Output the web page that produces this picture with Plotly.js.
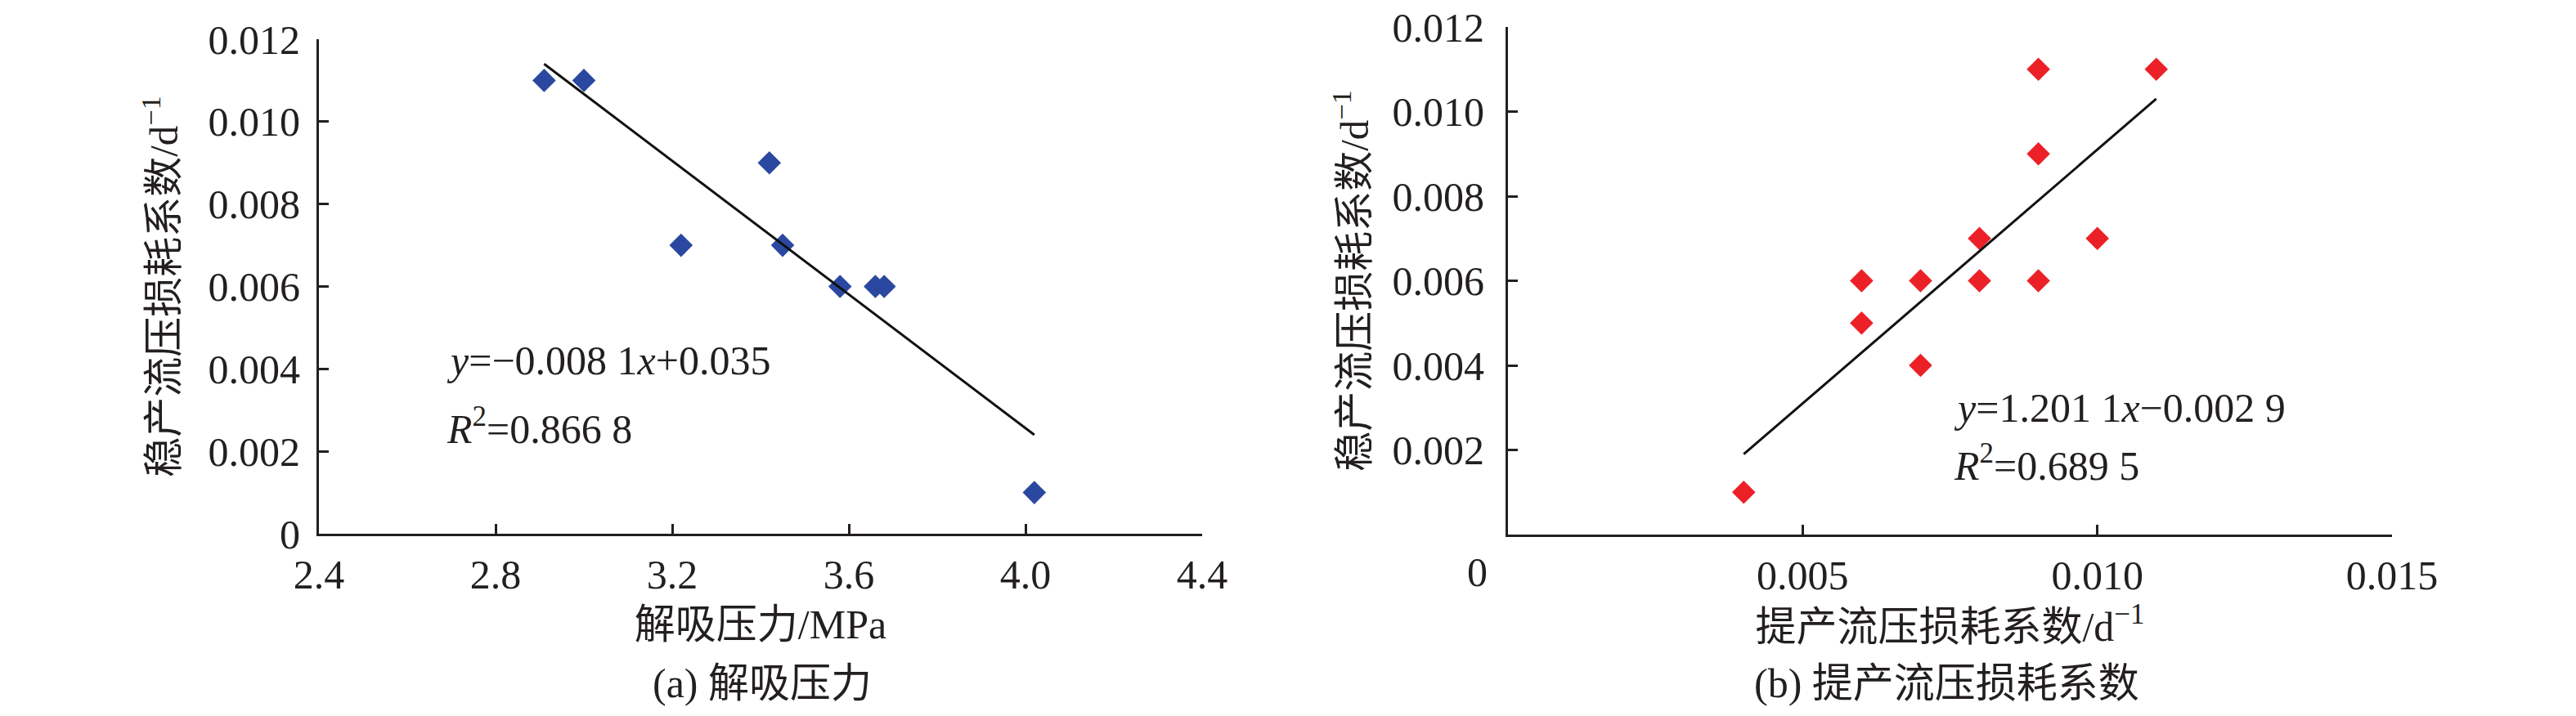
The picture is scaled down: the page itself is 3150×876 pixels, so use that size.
<!DOCTYPE html>
<html>
<head>
<meta charset="utf-8">
<script src="https://cdn.plot.ly/plotly-3.0.1.min.js"></script>
<style>html,body{margin:0;padding:0;background:#fff;}#chart{width:3150px;height:876px;}</style>
</head>
<body>
<div id="chart"></div>
<script>
// ---- Panel (a): desorption pressure vs stable-production loss coefficient ----
const desorbPressure = [2.91, 3.00, 3.22, 3.42, 3.45, 3.58, 3.66, 3.68, 4.02];
const stableLossA    = [0.011, 0.011, 0.007, 0.009, 0.007, 0.006, 0.006, 0.006, 0.001];
const trendAX = [2.91, 4.02];
const trendAY = [0.0114, 0.0024];
const eqA  = '<i>y</i>=−0.008 1<i>x</i>+0.035';
const r2A  = '<i>R</i><sup>2</sup>=0.866 8';

// ---- Panel (b): ramp-up loss coefficient vs stable-production loss coefficient ----
const rampLoss     = [0.004, 0.006, 0.006, 0.007, 0.007, 0.008, 0.008, 0.009, 0.009, 0.009, 0.010, 0.011];
const stableLossB  = [0.001, 0.005, 0.006, 0.006, 0.004, 0.007, 0.006, 0.011, 0.009, 0.006, 0.007, 0.011];
const trendBX = [0.004, 0.011];
const trendBY = [0.0019, 0.0103];
const eqB  = '<i>y</i>=1.201 1<i>x</i>−0.002 9';
const r2B  = '<i>R</i><sup>2</sup>=0.689 5';

// ---- Tick labels ----
const xTicksA = [2.4, 2.8, 3.2, 3.6, 4.0, 4.4];
const xTickTextA = ['2.4', '2.8', '3.2', '3.6', '4.0', '4.4'];
const yTicksA = [0, 0.002, 0.004, 0.006, 0.008, 0.010, 0.012];
const yTickTextA = ['0', '0.002', '0.004', '0.006', '0.008', '0.010', '0.012'];
const xTicksB = [0.005, 0.010, 0.015];
const xTickTextB = ['0.005', '0.010', '0.015'];
const yTicksB = [0.002, 0.004, 0.006, 0.008, 0.010, 0.012];
const yTickTextB = ['0.002', '0.004', '0.006', '0.008', '0.010', '0.012'];

// ---- Titles ----
const yTitle = '稳产流压损耗系数/d<sup>−1</sup>';
const xTitleA = '解吸压力/MPa';
const xTitleB = '提产流压损耗系数/d<sup>−1</sup>';
const subA = '(a) 解吸压力';
const subB = '(b) 提产流压损耗系数';

const FONT = "'Liberation Serif', 'Times New Roman', 'Noto Sans CJK SC', serif";
const INK = '#231f20';

const traces = [
  {x: desorbPressure, y: stableLossA, type: 'scatter', mode: 'markers', xaxis: 'x', yaxis: 'y',
   marker: {symbol: 'diamond', size: 22, color: '#2a48a0'}},
  {x: trendAX, y: trendAY, type: 'scatter', mode: 'lines', xaxis: 'x', yaxis: 'y',
   line: {color: '#111', width: 3}},
  {x: rampLoss, y: stableLossB, type: 'scatter', mode: 'markers', xaxis: 'x2', yaxis: 'y2',
   marker: {symbol: 'diamond', size: 22, color: '#ec2128'}},
  {x: trendBX, y: trendBY, type: 'scatter', mode: 'lines', xaxis: 'x2', yaxis: 'y2',
   line: {color: '#111', width: 3}}
];

function axisBase() {
  return {
    showline: true, linecolor: INK, linewidth: 3, mirror: false,
    showgrid: false, zeroline: false,
    ticks: 'inside', ticklen: 12, tickwidth: 3, tickcolor: INK,
    tickfont: {family: FONT, size: 50, color: INK},
    tickmode: 'array', fixedrange: true
  };
}

const layout = {
  width: 3150, height: 876,
  margin: {l: 0, r: 0, t: 0, b: 0},
  paper_bgcolor: '#fff', plot_bgcolor: '#fff',
  showlegend: false,
  font: {family: FONT, color: INK, size: 50},
  xaxis: Object.assign(axisBase(), {
    domain: [390/3150, 1470/3150], anchor: 'y', range: [2.4, 4.4],
    tickvals: xTicksA, ticktext: xTickTextA, ticklabelstandoff: 4,
    title: {text: xTitleA, font: {family: FONT, size: 50, color: INK}, standoff: 16}
  }),
  yaxis: Object.assign(axisBase(), {
    domain: [223/876, 828/876], anchor: 'x', range: [0, 0.012],
    tickvals: yTicksA, ticktext: yTickTextA, ticklabelstandoff: 10,
    title: {text: yTitle, font: {family: FONT, size: 49, color: INK}, standoff: 22}
  }),
  xaxis2: Object.assign(axisBase(), {
    domain: [1844/3150, 2925/3150], anchor: 'y2', range: [0, 0.015],
    tickvals: xTicksB, ticktext: xTickTextB, ticklabelstandoff: 4,
    title: {text: xTitleB, font: {family: FONT, size: 50, color: INK}, standoff: 16}
  }),
  yaxis2: Object.assign(axisBase(), {
    domain: [222/876, 843/876], anchor: 'x2', range: [0, 0.012],
    tickvals: yTicksB, ticktext: yTickTextB, ticklabelstandoff: 16,
    title: {text: yTitle, font: {family: FONT, size: 49, color: INK}, standoff: 14}
  }),
  annotations: [
    {text: eqA, xref: 'x', yref: 'y', x: 2.685, y: 0.0042, xanchor: 'left', yanchor: 'middle',
     showarrow: false, font: {family: FONT, size: 50, color: INK}},
    {text: r2A, xref: 'x', yref: 'y', x: 2.685, y: 0.0026, xanchor: 'left', yanchor: 'middle',
     showarrow: false, font: {family: FONT, size: 50, color: INK}},
    {text: eqB, xref: 'x2', yref: 'y2', x: 0.00754, y: 0.0030, xanchor: 'left', yanchor: 'middle',
     showarrow: false, font: {family: FONT, size: 50, color: INK}},
    {text: r2B, xref: 'x2', yref: 'y2', x: 0.00754, y: 0.0017, xanchor: 'left', yanchor: 'middle',
     showarrow: false, font: {family: FONT, size: 50, color: INK}},
    {text: '0', xref: 'x2', yref: 'y2', x: 0, y: 0, xanchor: 'center', yanchor: 'top',
     xshift: -37, yshift: -16, showarrow: false, font: {family: FONT, size: 50, color: INK}},
    {text: subA, xref: 'paper', yref: 'paper', x: 932/3150, y: 40/876, xanchor: 'center', yanchor: 'middle',
     showarrow: false, font: {family: FONT, size: 50, color: INK}},
    {text: subB, xref: 'paper', yref: 'paper', x: 2380/3150, y: 40/876, xanchor: 'center', yanchor: 'middle',
     showarrow: false, font: {family: FONT, size: 50, color: INK}}
  ]
};

Plotly.newPlot('chart', traces, layout, {staticPlot: true, displayModeBar: false});
</script>
</body>
</html>
